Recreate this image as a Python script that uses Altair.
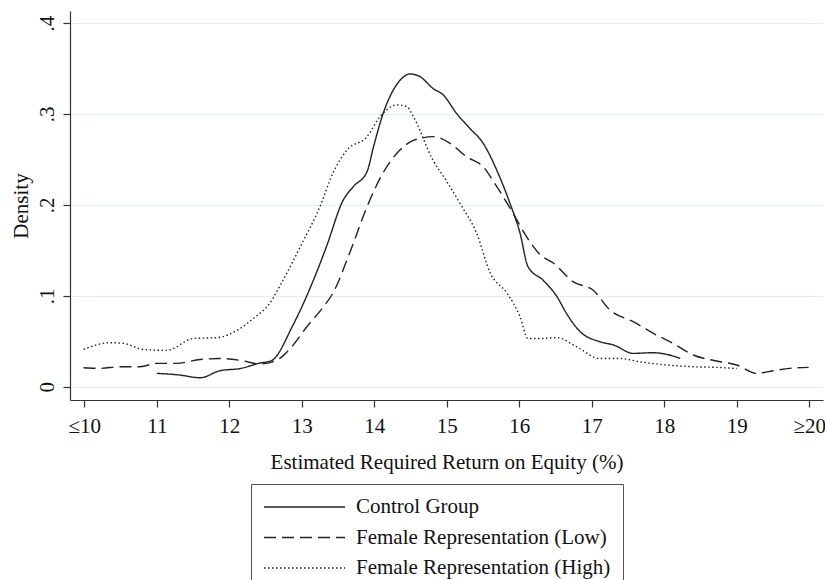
import altair as alt
import pandas as pd

series = ["Control Group", "Female Representation (Low)", "Female Representation (High)"]

control_x = [11.0, 11.3, 11.6, 11.87, 12.15, 12.42, 12.58, 12.88, 13.2, 13.34, 13.57, 13.71, 13.9, 13.99,
             14.12, 14.26, 14.38, 14.49, 14.63, 14.81, 14.95, 15.14, 15.32, 15.50, 15.69, 15.87, 16.01,
             16.12, 16.33, 16.52, 16.65, 16.84, 17.11, 17.30, 17.57, 17.85, 18.03, 18.22]
control_y = [0.0147, 0.013, 0.0099, 0.0176, 0.020, 0.026, 0.0286, 0.068, 0.125, 0.154, 0.205, 0.22, 0.2365, 0.264,
             0.30, 0.326, 0.339, 0.344, 0.341, 0.328, 0.321, 0.30, 0.284, 0.268, 0.238, 0.202, 0.169,
             0.132, 0.117, 0.099, 0.0807, 0.0605, 0.0495, 0.0459, 0.0367, 0.0374, 0.0356, 0.0312]

low_x = [9.99, 10.22, 10.49, 10.77, 11.0, 11.27, 11.6, 11.87, 12.15, 12.42, 12.65, 12.84, 13.07, 13.30, 13.43,
         13.66, 13.90, 14.12, 14.35, 14.54, 14.63, 14.81, 15.04, 15.27, 15.50, 15.69, 15.92, 16.10, 16.29,
         16.47, 16.74, 17.02, 17.25, 17.57, 17.85, 18.12, 18.40, 18.72, 19.0, 19.27, 19.50, 19.73, 19.99]
low_y = [0.0209, 0.0202, 0.022, 0.022, 0.0257, 0.0257, 0.030, 0.031, 0.029, 0.025, 0.029, 0.042, 0.066, 0.088, 0.103,
         0.147, 0.198, 0.235, 0.260, 0.271, 0.273, 0.275, 0.268, 0.253, 0.242, 0.22, 0.19, 0.165, 0.145,
         0.136, 0.1155, 0.106, 0.0844, 0.0715, 0.0587, 0.0477, 0.0349, 0.0283, 0.0239, 0.0147, 0.0176, 0.0202, 0.0213]

high_x = [9.99, 10.35, 10.54, 10.81, 11.14, 11.5, 11.83, 12.15, 12.33, 12.56, 12.74, 12.98, 13.25, 13.43, 13.62,
          13.90, 14.08, 14.31, 14.45, 14.54, 14.81, 14.99, 15.18, 15.41, 15.60, 15.83, 16.01, 16.12, 16.29,
          16.52, 16.79, 17.11, 17.39, 17.66, 18.03, 18.40, 18.72, 19.00]
high_y = [0.041, 0.0484, 0.0477, 0.041, 0.040, 0.053, 0.054, 0.064, 0.075, 0.092, 0.117, 0.154, 0.198, 0.235, 0.260,
          0.275, 0.297, 0.310, 0.308, 0.297, 0.249, 0.227, 0.2018, 0.169, 0.125, 0.103, 0.077, 0.053, 0.053,
          0.054, 0.044, 0.031, 0.031, 0.0275, 0.0239, 0.022, 0.0213, 0.020]

x_ticks = [10, 11, 12, 13, 14, 15, 16, 17, 18, 19, 20]
y_ticks = [0, 0.1, 0.2, 0.3, 0.4]

rows = []
for name, xs, ys in [(series[0], control_x, control_y), (series[1], low_x, low_y), (series[2], high_x, high_y)]:
    for i, (a, b) in enumerate(zip(xs, ys)):
        rows.append({"series": name, "x": a, "y": b, "order": i})
df = pd.DataFrame(rows)

FONT = "Liberation Serif"

chart = alt.Chart(df).mark_line(color="#222222", strokeWidth=1.4, interpolate="monotone").encode(
    x=alt.X("x:Q",
            scale=alt.Scale(domain=[9.803, 20.189], nice=False, zero=False),
            axis=alt.Axis(values=x_ticks, grid=False,
                          labelExpr="datum.value == 10 ? '\u226410' : datum.value == 20 ? '\u226520' : datum.value",
                          title="Estimated Required Return on Equity (%)",
                          labelPadding=8, titlePadding=15)),
    y=alt.Y("y:Q",
            scale=alt.Scale(domain=[-0.0146, 0.4132], nice=False, zero=False),
            axis=alt.Axis(values=y_ticks, grid=True, gridColor="#e6eff2", gridWidth=1.2,
                          labelExpr="datum.value == 0 ? '0' : replace(format(datum.value, '.1f'), '0.', '.')",
                          labelAngle=270, labelAlign="center", labelBaseline="bottom",
                          labelPadding=6, title="Density", titlePadding=5)),
    strokeDash=alt.StrokeDash("series:N",
                              scale=alt.Scale(domain=series, range=[[1, 0], [12, 6], [1.5, 2.5]]),
                              sort=series,
                              legend=alt.Legend(title=None, orient="none", legendX=181, legendY=473,
                                                direction="vertical", padding=12, clipHeight=22,
                                                strokeColor="#555555", symbolType="stroke",
                                                symbolSize=6561, symbolStrokeWidth=1.4,
                                                symbolStrokeColor="#222222",
                                                labelFont=FONT, labelFontSize=21, labelColor="#111111",
                                                labelLimit=400, labelOffset=10, rowPadding=8.5)),
    order="order:Q",
).properties(
    width=753, height=389,
    autosize=alt.AutoSizeParams(type="none"),
    padding={"left": 70, "top": 11, "right": 2, "bottom": 180},
).configure_view(stroke=None).configure_axis(
    labelFont=FONT, titleFont=FONT, labelFontSize=21, titleFontSize=21,
    labelColor="#111111", titleColor="#111111", titleFontWeight="normal",
    domainColor="#333333", tickColor="#333333", tickSize=7, domainWidth=1.2, tickWidth=1.2,
)

chart.save("out.html", embed_options={"renderer": "svg", "actions": False})
